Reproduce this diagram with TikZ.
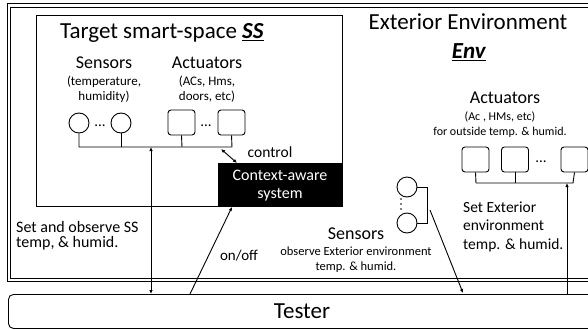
\documentclass[tikz,border=0pt]{standalone}
\usepackage{fontspec}
\setmainfont{Carlito}
\usetikzlibrary{arrows.meta}
\newcommand{\fs}[2]{\fontsize{#1}{#2}\selectfont}
\begin{document}
\begin{tikzpicture}[x=1pt,y=-1pt,
  ln/.style={line width=0.9pt},
  arr/.style={line width=0.9pt,-{Latex[length=4pt,width=3.5pt]}},
  darr/.style={line width=0.9pt,{Latex[length=4pt,width=3.5pt]}-{Latex[length=4pt,width=3.5pt]}},
  sens/.style={draw,line width=0.9pt,circle,minimum size=20pt,inner sep=0pt},
  act/.style={draw,line width=0.9pt,rounded corners=3pt,minimum width=27pt,minimum height=25pt,inner sep=0pt},
  txt/.style={inner sep=0pt,align=center},
  ltxt/.style={inner sep=0pt,anchor=west,align=left}]
\clip (0,0) rectangle (588,329);
\fill[white] (0,0) rectangle (588,329);
% outer double frame
\draw[line width=0.9pt] (7,3) rectangle (600,281);
\draw[line width=0.9pt] (10,7) rectangle (600,278);
% tester
\node[draw,line width=0.9pt,rounded corners=5pt,minimum width=600pt,minimum height=34pt,anchor=north west,inner sep=0pt] (tester) at (8,294) {};
\node[txt,font=\fs{23}{23}] (testerlbl) at (302,311) {Tester};
% SS box
\node[draw,line width=1.1pt,minimum width=306pt,minimum height=191pt,anchor=north west,inner sep=0pt] (ss) at (36,15) {};
\node[txt,font=\fs{23}{23}] (sstitle) at (162,33) {Target smart-space \underline{\textbf{\textit{SS}}}};
\node[txt,font=\fs{18}{18}] (senslbl) at (104,63) {Sensors};
\node[txt,font=\fs{13}{15}] (senssub) at (104,89.5) {(temperature,\\humidity)};
\node[txt,font=\fs{18}{18}] (actlbl) at (207,63) {Actuators};
\node[txt,font=\fs{13}{15}] (actsub) at (207,89.5) {(ACs, Hms,\\doors, etc)};
\node[sens] (c1) at (79,123) {};
\node[sens] (c2) at (121,123) {};
\node[txt,font=\fs{15}{15}] (cd) at (100,126) {...};
\node[act] (a1) at (181.5,122.5) {};
\node[act] (a2) at (231.5,122.5) {};
\node[txt,font=\fs{15}{15}] (ad) at (206,126) {...};
\coordinate (b1) at (79,147);
\coordinate (b2) at (121,147);
\coordinate (b3) at (182,147);
\coordinate (b4) at (232,147);
\coordinate (bm) at (151,147);
\draw[ln] (c1.south) -- (b1) -- (b4) -- (a2.south);
\draw[ln] (c2.south) -- (b2);
\draw[ln] (a1.south) -- (b3);
% context-aware
\node[fill=black,minimum width=124pt,minimum height=43pt,anchor=north west,inner sep=0pt] (cas) at (218,163) {};
\node[txt,text=white,font=\fs{16}{18}] (caslbl) at (280,186) {Context-aware\\system};
\coordinate (ctl1) at (221,149);
\coordinate (ctl2) at (237,163);
\draw[darr] (ctl1) -- (ctl2);
\node[txt,font=\fs{15.5}{15.5}] (ctllbl) at (270,152) {control};
% left arrow
\coordinate (tl) at (151,294);
\draw[darr] (bm) -- (tl);
\node[ltxt,font=\fs{16}{15.5}] (setss) at (16,235.5) {Set and observe SS\\temp, \& humid.};
% on/off
\coordinate (on1) at (190,294);
\coordinate (on2) at (232,207);
\draw[arr] (on1) -- (on2);
\node[txt,font=\fs{15}{15}] (onlbl) at (239,256) {on/off};
% exterior
\node[txt,font=\fs{23}{23}] (extlbl) at (468,22) {Exterior Environment};
\node[txt,font=\fs{23}{23}] (envlbl) at (469,52) {\underline{\textbf{\textit{Env}}}};
\node[txt,font=\fs{18}{18}] (eactlbl) at (505,98) {Actuators};
\node[txt,font=\fs{12}{15}] (eactsub) at (500,124.5) {(Ac , HMs, etc)\\for outside temp. \& humid.};
\node[act] (e1) at (475.5,159.5) {};
\node[act] (e2) at (515,159.5) {};
\node[act] (e3) at (574.5,159.5) {};
\node[txt,font=\fs{15}{15}] (ed) at (541,162) {...};
\coordinate (eb1) at (476,183);
\coordinate (eb2) at (515,183);
\coordinate (eb3) at (573,183);
\coordinate (ebm) at (567,183);
\draw[ln] (e1.south) -- (eb1) -- (eb3) -- (e3.south);
\draw[ln] (e2.south) -- (eb2);
\coordinate (tr) at (567,294);
\draw[arr] (tr) -- (ebm);
\node[ltxt,font=\fs{15.5}{18.5}] (setext) at (463,226.5) {Set Exterior\\environment\\temp. \& humid.};
% exterior sensors
\node[sens] (s1) at (407,187) {};
\node[sens] (s2) at (407,223) {};
\foreach \yy in {199,204,209}{\fill (401,\yy) circle (0.8pt);}
\coordinate (br1) at (427,187);
\coordinate (br2) at (427,223);
\draw[ln] (s1.east) -- (br1) -- (br2) -- (s2.east);
\coordinate (sa1) at (430,210);
\coordinate (sa2) at (463,293);
\draw[arr] (sa1) -- (sa2);
\node[txt,font=\fs{18}{18}] (esenslbl) at (356,234) {Sensors};
\node[txt,font=\fs{12.5}{15}] (esenssub) at (356,259.5) {observe Exterior environment\\temp. \& humid.};
\end{tikzpicture}
\end{document}
